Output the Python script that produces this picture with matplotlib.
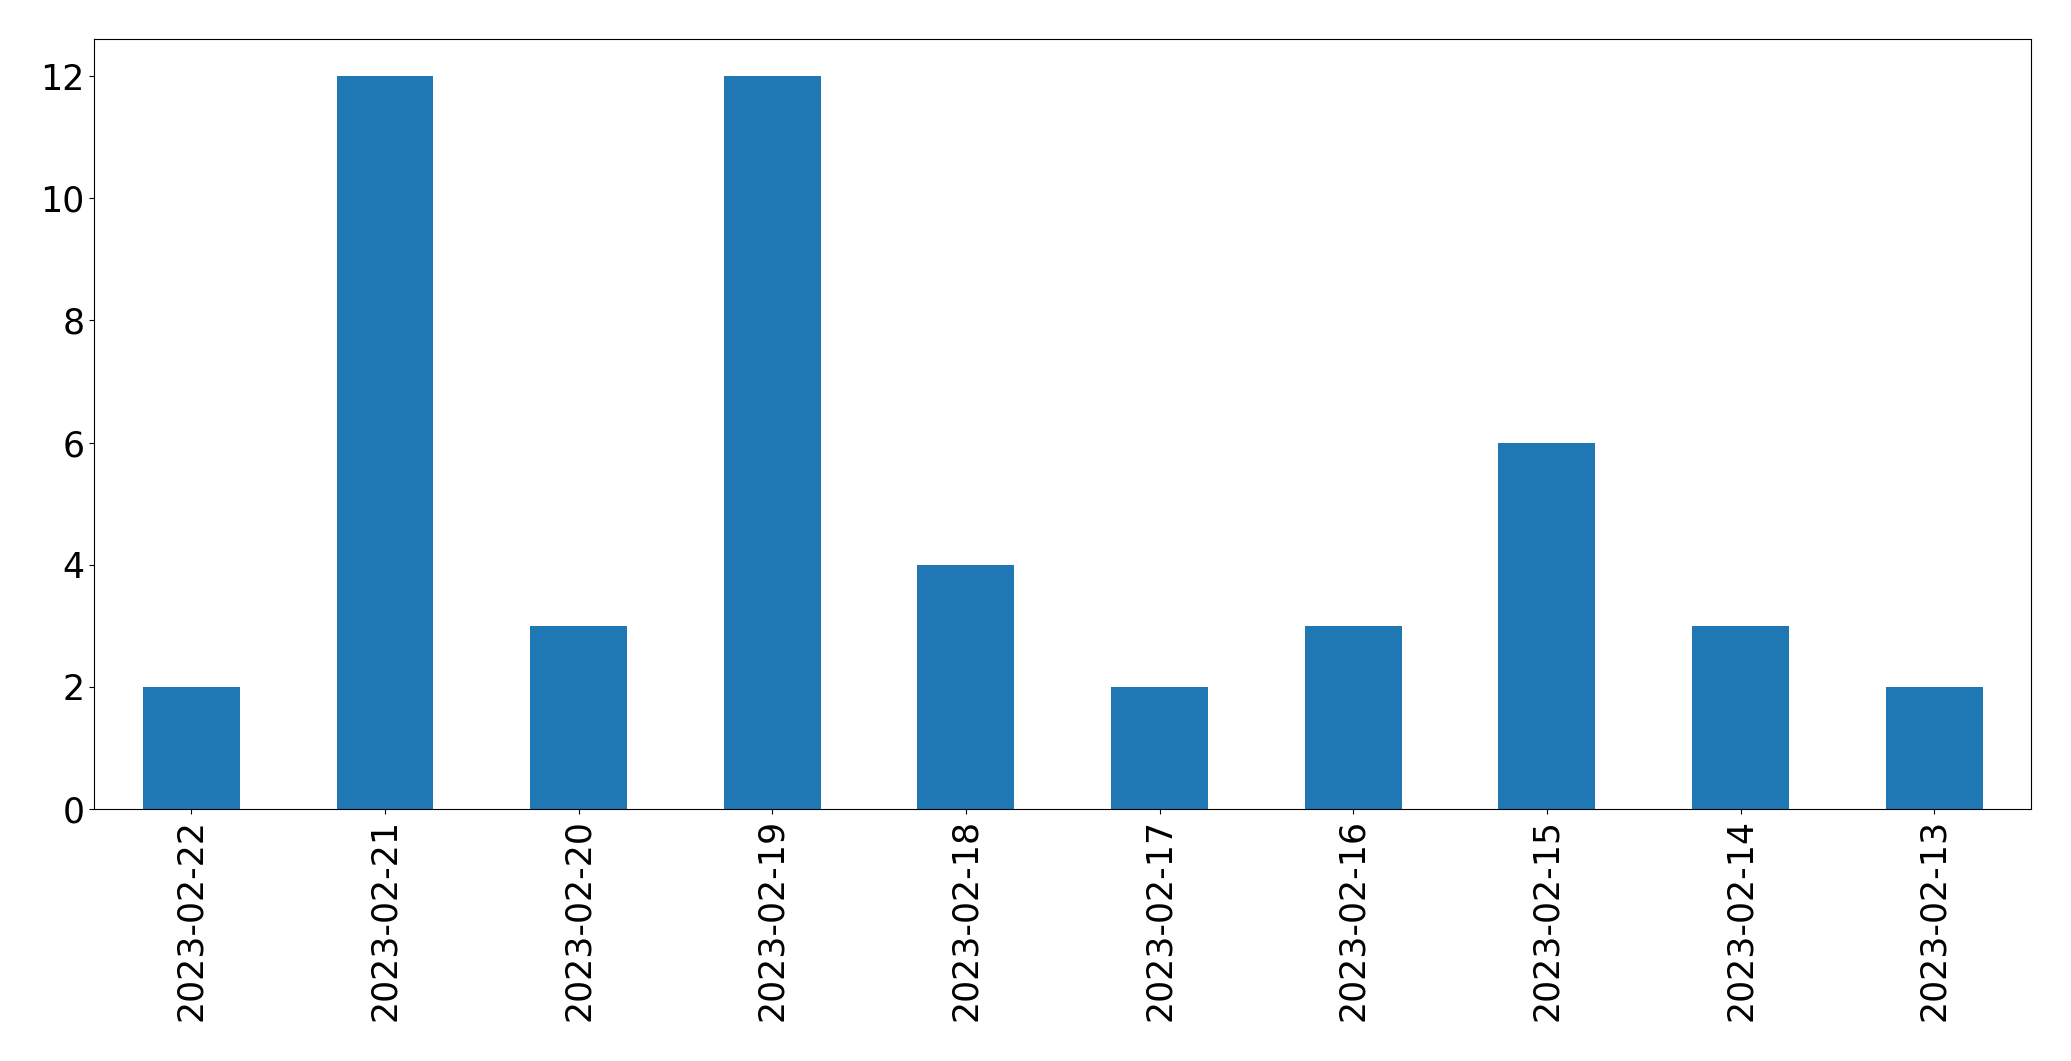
import matplotlib
matplotlib.use('Agg')
import matplotlib.pyplot as plt

dates = ['2023-02-22', '2023-02-21', '2023-02-20', '2023-02-19', '2023-02-18',
         '2023-02-17', '2023-02-16', '2023-02-15', '2023-02-14', '2023-02-13']
counts = [2, 12, 3, 12, 4, 2, 3, 6, 3, 2]

fig = plt.figure(figsize=(20.71, 10.61), dpi=100)
ax = fig.add_axes([0.0456, 0.2375, 0.9351, 0.7253])

x = range(len(dates))
ax.bar(x, counts, width=0.5, color='#1f77b4')
ax.set_xlim(-0.5, len(dates) - 0.5)
ax.set_xticks(list(x))
ax.set_xticklabels(dates, rotation=90)
ax.tick_params(labelsize=25)

fig.savefig('out.png', dpi=100)
